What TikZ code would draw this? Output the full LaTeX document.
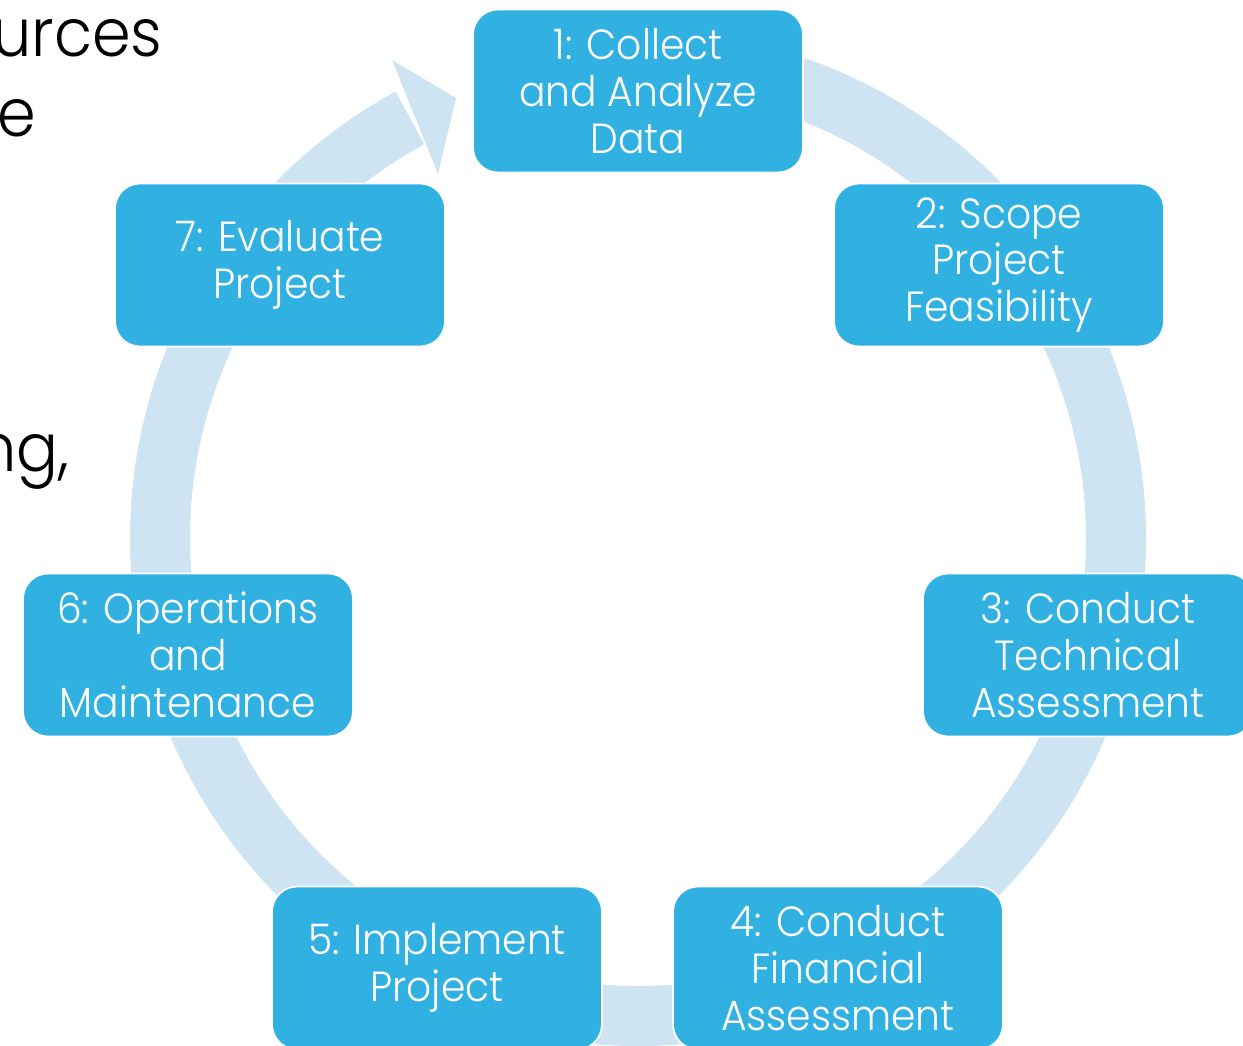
\documentclass[tikz,border=0pt]{standalone}
\usepackage{fontspec}
\setmainfont{Poppins}[UprightFont=* Light, FakeStretch=0.93]
\definecolor{boxblue}{HTML}{31B1E2}
\definecolor{ringblue}{HTML}{CFE4F3}

\begin{document}
\begin{tikzpicture}[x=0.02cm, y=0.02cm,
  stage/.style={draw=white, line width=1pt, fill=boxblue, rounded corners=0.5cm,
    minimum width=6.6cm, minimum height=3.26cm, inner sep=0pt,
    text=white, align=center, font=\fontsize{24}{26.7}\selectfont},
  slidetext/.style={anchor=base east, inner sep=0pt, font=\fontsize{38}{40}\selectfont}]
  \useasboundingbox (0,0) rectangle (1243,1045);
  \clip (0,0) rectangle (1243,1045);
  % slide text running off the left edge
  \node[slidetext] (a) at (163,988) {urces};
  \node[slidetext] (b) at (36,908) {e};
  \node[slidetext] (c) at (70,573) {ng,};
  % the ring with its arrowhead into step 1
  \coordinate (ctr) at (638,507);
  \draw[ringblue, line width=1.2cm] (ctr) ++(95:478) arc[start angle=95, end angle=-241.5, radius=478];
  \fill[ringblue] (392,985) -- (456,947) -- (438,871) -- cycle;
  % the seven steps
  \node[stage] (1) at (638,954) {1: Collect\\and Analyze\\Data};
  \node[stage] (2) at (999,780) {2: Scope\\Project\\Feasibility};
  \node[stage] (3) at (1088,390) {3: Conduct\\Technical\\Assessment};
  \node[stage] (4) at (838,77) {4: Conduct\\Financial\\Assessment};
  \node[stage] (5) at (437,77) {5: Implement\\Project};
  \node[stage] (6) at (188,390) {6: Operations\\and\\Maintenance};
  \node[stage] (7) at (280,780) {7: Evaluate\\Project};
\end{tikzpicture}
\end{document}
